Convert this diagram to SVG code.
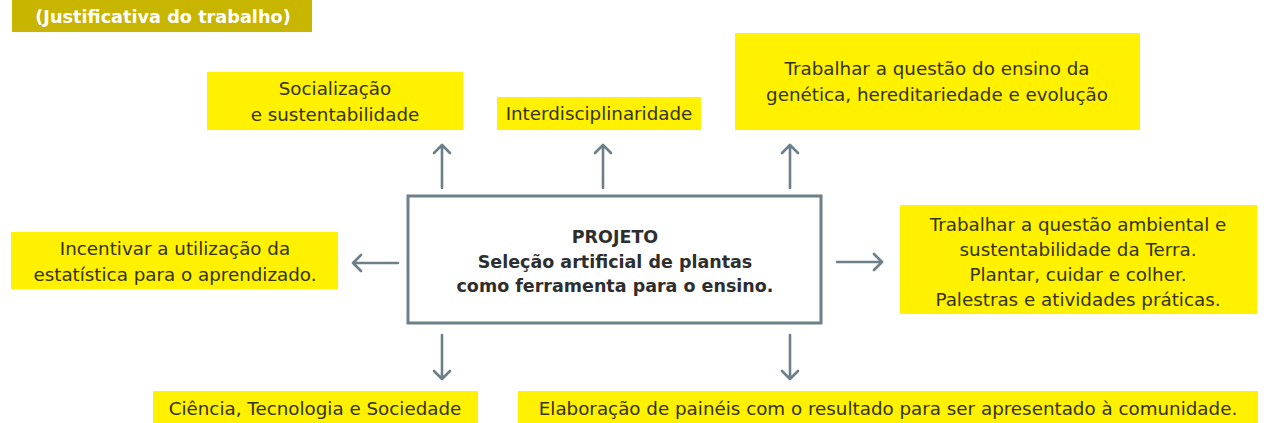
<svg xmlns="http://www.w3.org/2000/svg" width="1264" height="423" viewBox="0 0 1264 423">
<defs>
<style>
.box{fill:#fff100;}
.t{font-family:"DejaVu Sans",sans-serif;font-size:18.3px;fill:#34330e;text-anchor:middle;}
.c{font-family:"DejaVu Sans",sans-serif;font-size:17.5px;font-weight:bold;fill:#2e2e2e;text-anchor:middle;}
.arr{stroke:#6d7f89;stroke-width:2.6;fill:none;stroke-linecap:round;stroke-linejoin:round;}
</style>
</defs>
<rect width="1264" height="423" fill="#ffffff"/>
<g id="title">
<rect x="12" y="0" width="300" height="32" fill="#c8b500"/>
<text x="163" y="23" style="font-family:'DejaVu Sans',sans-serif;font-size:17.7px;font-weight:bold;fill:#ffffff;text-anchor:middle">(Justificativa do trabalho)</text>
</g>
<g id="socializacao">
<rect class="box" x="207" y="72" width="256" height="58"/>
<text class="t" x="335" y="95">Socialização</text>
<text class="t" x="335" y="121">e sustentabilidade</text>
</g>
<g id="interdisciplinaridade">
<rect class="box" x="497" y="97" width="204" height="33"/>
<text class="t" x="599" y="120">Interdisciplinaridade</text>
</g>
<g id="genetica">
<rect class="box" x="735" y="33" width="405" height="97"/>
<text class="t" x="937" y="75">Trabalhar a questão do ensino da</text>
<text class="t" x="937" y="101">genética, hereditariedade e evolução</text>
</g>
<g id="projeto">
<rect x="408" y="196" width="413" height="127" fill="#ffffff" stroke="#6d7f89" stroke-width="3"/>
<text class="c" x="615" y="243">PROJETO</text>
<text class="c" x="615" y="268">Seleção artificial de plantas</text>
<text class="c" x="615" y="292">como ferramenta para o ensino.</text>
</g>
<g id="estatistica">
<rect class="box" x="11" y="232" width="327" height="57"/>
<text class="t" x="175" y="255">Incentivar a utilização da</text>
<text class="t" x="175" y="281">estatística para o aprendizado.</text>
</g>
<g id="ambiental">
<rect class="box" x="900" y="205" width="357" height="109"/>
<text class="t" x="1078" y="231">Trabalhar a questão ambiental e</text>
<text class="t" x="1078" y="256">sustentabilidade da Terra.</text>
<text class="t" x="1078" y="281">Plantar, cuidar e colher.</text>
<text class="t" x="1078" y="306">Palestras e atividades práticas.</text>
</g>
<g id="cts">
<rect class="box" x="153" y="391" width="325" height="32"/>
<text class="t" x="315" y="415">Ciência, Tecnologia e Sociedade</text>
</g>
<g id="elaboracao">
<rect class="box" x="518" y="391" width="740" height="32"/>
<text class="t" x="888" y="415">Elaboração de painéis com o resultado para ser apresentado à comunidade.</text>
</g>
<g id="connectors">
<path class="arr" d="M442 188V145M434 153L442 145L450 153"/>
<path class="arr" d="M603 188V145M595 153L603 145L611 153"/>
<path class="arr" d="M790 188V145M782 153L790 145L798 153"/>
<path class="arr" d="M398 263H353M361 255L353 263L361 271"/>
<path class="arr" d="M837 262H882M874 254L882 262L874 270"/>
<path class="arr" d="M442 335V379M434 371L442 379L450 371"/>
<path class="arr" d="M790 335V379M782 371L790 379L798 371"/>
</g>
</svg>
